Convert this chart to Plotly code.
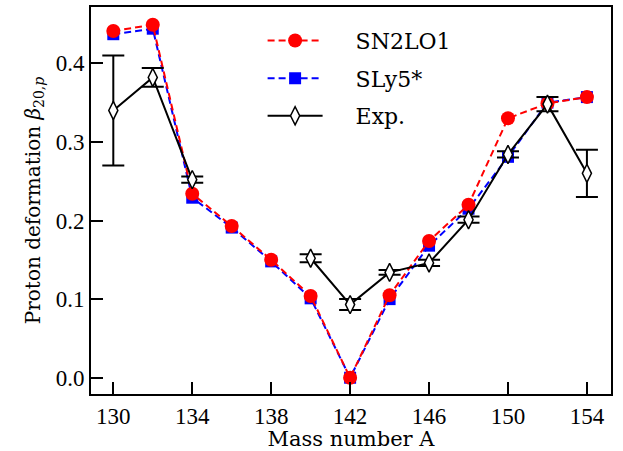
import plotly.graph_objects as go

mass = [130, 132, 134, 136, 138, 140, 142, 144, 146, 148, 150, 152, 154]
sn2lo1 = [0.441, 0.449, 0.234, 0.193, 0.150, 0.104, 0.000, 0.105, 0.174, 0.220, 0.330, 0.349, 0.357]
sly5 = [0.437, 0.444, 0.229, 0.191, 0.148, 0.101, 0.000, 0.100, 0.168, 0.215, 0.281, 0.350, 0.357]

# Experimental values (None where no measurement: 136, 138)
exp_val = [0.340, 0.382, 0.252, None, None, 0.152, 0.093, 0.134, 0.146, 0.201, 0.284, 0.348, 0.260]
exp_err = [0.070, 0.012, 0.004, None, None, 0.005, 0.007, 0.003, 0.004, 0.004, 0.004, 0.009, 0.030]

x_ticks = [130, 134, 138, 142, 146, 150, 154]
y_ticks = [0.0, 0.1, 0.2, 0.3, 0.4]

TICK_FONT = "Liberation Serif"
TEXT_FONT = "DejaVu Serif"
PAD = "\u00a0" * 4

fig = go.Figure()
fig.add_trace(go.Scatter(
    x=mass, y=sly5, name=PAD + "SLy5*", mode="lines+markers", legendrank=2,
    legendgroup="b",
    line=dict(color="blue", width=2, dash="7px,4px"),
    marker=dict(symbol="square", size=12, color="blue"),
))
fig.add_trace(go.Scatter(
    x=mass, y=sn2lo1, name=PAD + "SN2LO1", mode="lines+markers", legendrank=1,
    legendgroup="a",
    line=dict(color="red", width=2, dash="7px,4px"),
    marker=dict(symbol="circle", size=14, color="red"),
))
fig.add_trace(go.Scatter(
    x=mass, y=exp_val, name=PAD + "Exp.", mode="lines+markers", legendrank=3,
    legendgroup="c", connectgaps=False,
    line=dict(color="black", width=2),
    marker=dict(symbol="diamond-tall", size=13, color="white",
                line=dict(color="black", width=1.5)),
    error_y=dict(type="data", array=exp_err, visible=True, color="black",
                 thickness=2, width=11),
))

axis_common = dict(
    showgrid=False, zeroline=False, showline=True, linecolor="black",
    linewidth=2, mirror=True, ticks="inside", ticklen=12, tickwidth=2,
    tickcolor="black", tickfont=dict(family=TICK_FONT, size=23, color="black"),
    automargin=False,
)

fig.update_layout(
    width=623, height=451,
    margin=dict(l=91, r=12, t=7, b=57),
    paper_bgcolor="white", plot_bgcolor="white",
    font=dict(family=TEXT_FONT, color="black"),
    xaxis=dict(range=[128.87, 155.22], tickvals=x_ticks,
               title=dict(text="Mass number A", font=dict(family=TEXT_FONT, size=21), standoff=11),
               **axis_common),
    yaxis=dict(range=[-0.0207, 0.4716], tickvals=y_ticks, tickformat=".1f",
               title=dict(text="Proton deformation <i>β</i><sub>20,<i>p</i></sub>",
                          font=dict(family=TEXT_FONT, size=20), standoff=10),
               **axis_common),
    legend=dict(x=0.33, y=0.967, xanchor="left", yanchor="top",
                bgcolor="rgba(0,0,0,0)", font=dict(family=TEXT_FONT, size=22),
                itemwidth=55, tracegroupgap=6),
    showlegend=True,
)

fig.write_html("out.html", post_script="document.body.style.margin='0px';",
               config={"displayModeBar": False})
